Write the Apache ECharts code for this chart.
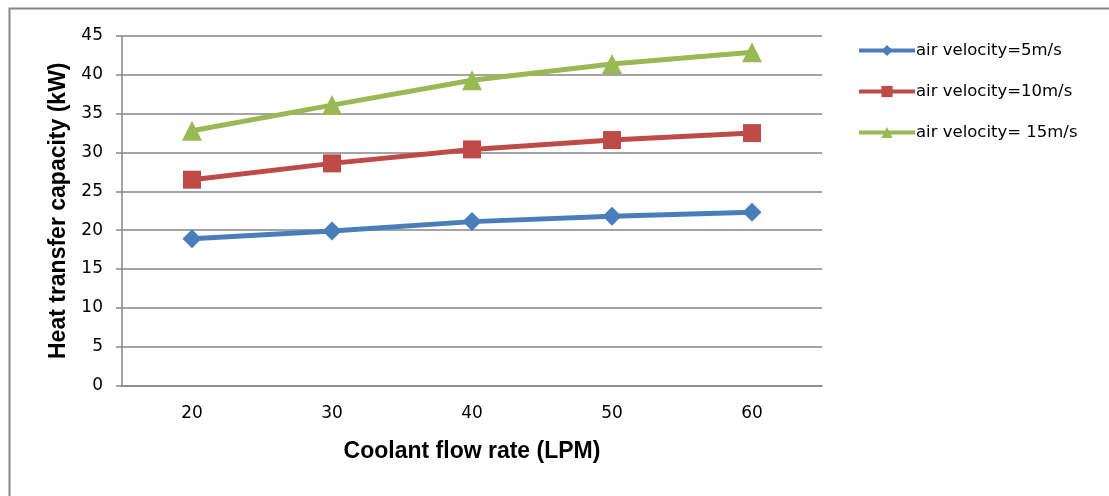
<!DOCTYPE html>
<html>
<head>
<meta charset="utf-8">
<script src="https://cdn.jsdelivr.net/npm/echarts@6/dist/echarts.min.js"></script>
<style>
html,body{margin:0;padding:0;background:#fff;}
#chart{width:1109px;height:496px;}
</style>
</head>
<body>
<div id="chart"></div>
<script>
const categories = ['20', '30', '40', '50', '60'];
const seriesNames = ['air velocity=5m/s', 'air velocity=10m/s', 'air velocity= 15m/s'];
const v5 = [18.9, 19.9, 21.1, 21.8, 22.3];
const v10 = [26.5, 28.6, 30.4, 31.6, 32.5];
const v15 = [32.8, 36.1, 39.3, 41.4, 42.9];
const yTicks = [0, 45, 5];

const FONT = 'DejaVu Sans';
const TFONT = 'Liberation Sans';
const gray = '#868686';
const chart = echarts.init(document.getElementById('chart'), null, {renderer: 'canvas'});

function mk(name, data, color, symbol, size) {
  return {
    name: name, type: 'line', data: data,
    symbol: symbol, symbolSize: size,
    lineStyle: {color: color, width: 5},
    itemStyle: {color: color},
    emphasis: {disabled: true},
    animation: false
  };
}

chart.setOption({
  animation: false,
  backgroundColor: '#fff',
  textStyle: {fontFamily: FONT},
  graphic: [{
    type: 'rect', left: 7, top: 6, z: -1,
    shape: {width: 1200, height: 600},
    style: {fill: 'none', stroke: gray, lineWidth: 2}
  }],
  grid: {left: 122, right: 287, top: 36, bottom: 110.5, containLabel: false},
  legend: {
    orient: 'vertical', left: 852, top: 37,
    itemWidth: 56, itemHeight: 14, itemGap: 24,
    lineStyle: {width: 4},
    textStyle: {fontFamily: FONT, fontSize: 16.5, lineHeight: 14, color: '#000', padding: [0,0,0,-4]},
    data: seriesNames
  },
  xAxis: {
    type: 'category', data: categories, boundaryGap: true,
    name: 'Coolant flow rate (LPM)', nameLocation: 'middle', nameGap: 55,
    nameTextStyle: {fontFamily: TFONT, fontSize: 23, fontWeight: 'bold', color: '#000'},
    axisLine: {lineStyle: {color: gray, width: 1.5}},
    axisTick: {show: false},
    axisLabel: {fontFamily: FONT, fontSize: 17, color: '#000', margin: 20}
  },
  yAxis: {
    type: 'value', min: yTicks[0], max: yTicks[1], interval: yTicks[2],
    name: 'Heat transfer capacity (kW)', nameLocation: 'middle', nameRotate: 90, nameGap: 50,
    nameTextStyle: {fontFamily: TFONT, fontSize: 23, fontWeight: 'bold', color: '#000'},
    axisLine: {show: true, lineStyle: {color: gray, width: 1.5}},
    axisTick: {show: true, length: 6, lineStyle: {color: gray, width: 1.5}},
    splitLine: {lineStyle: {color: gray, width: 1.5}},
    axisLabel: {fontFamily: FONT, fontSize: 17, color: '#000', margin: 19}
  },
  series: [
    mk(seriesNames[0], v5, '#4A7EBB', 'diamond', 19),
    mk(seriesNames[1], v10, '#BE4B48', 'rect', 18),
    mk(seriesNames[2], v15, '#98B954', 'triangle', 20)
  ]
});
</script>
</body>
</html>
